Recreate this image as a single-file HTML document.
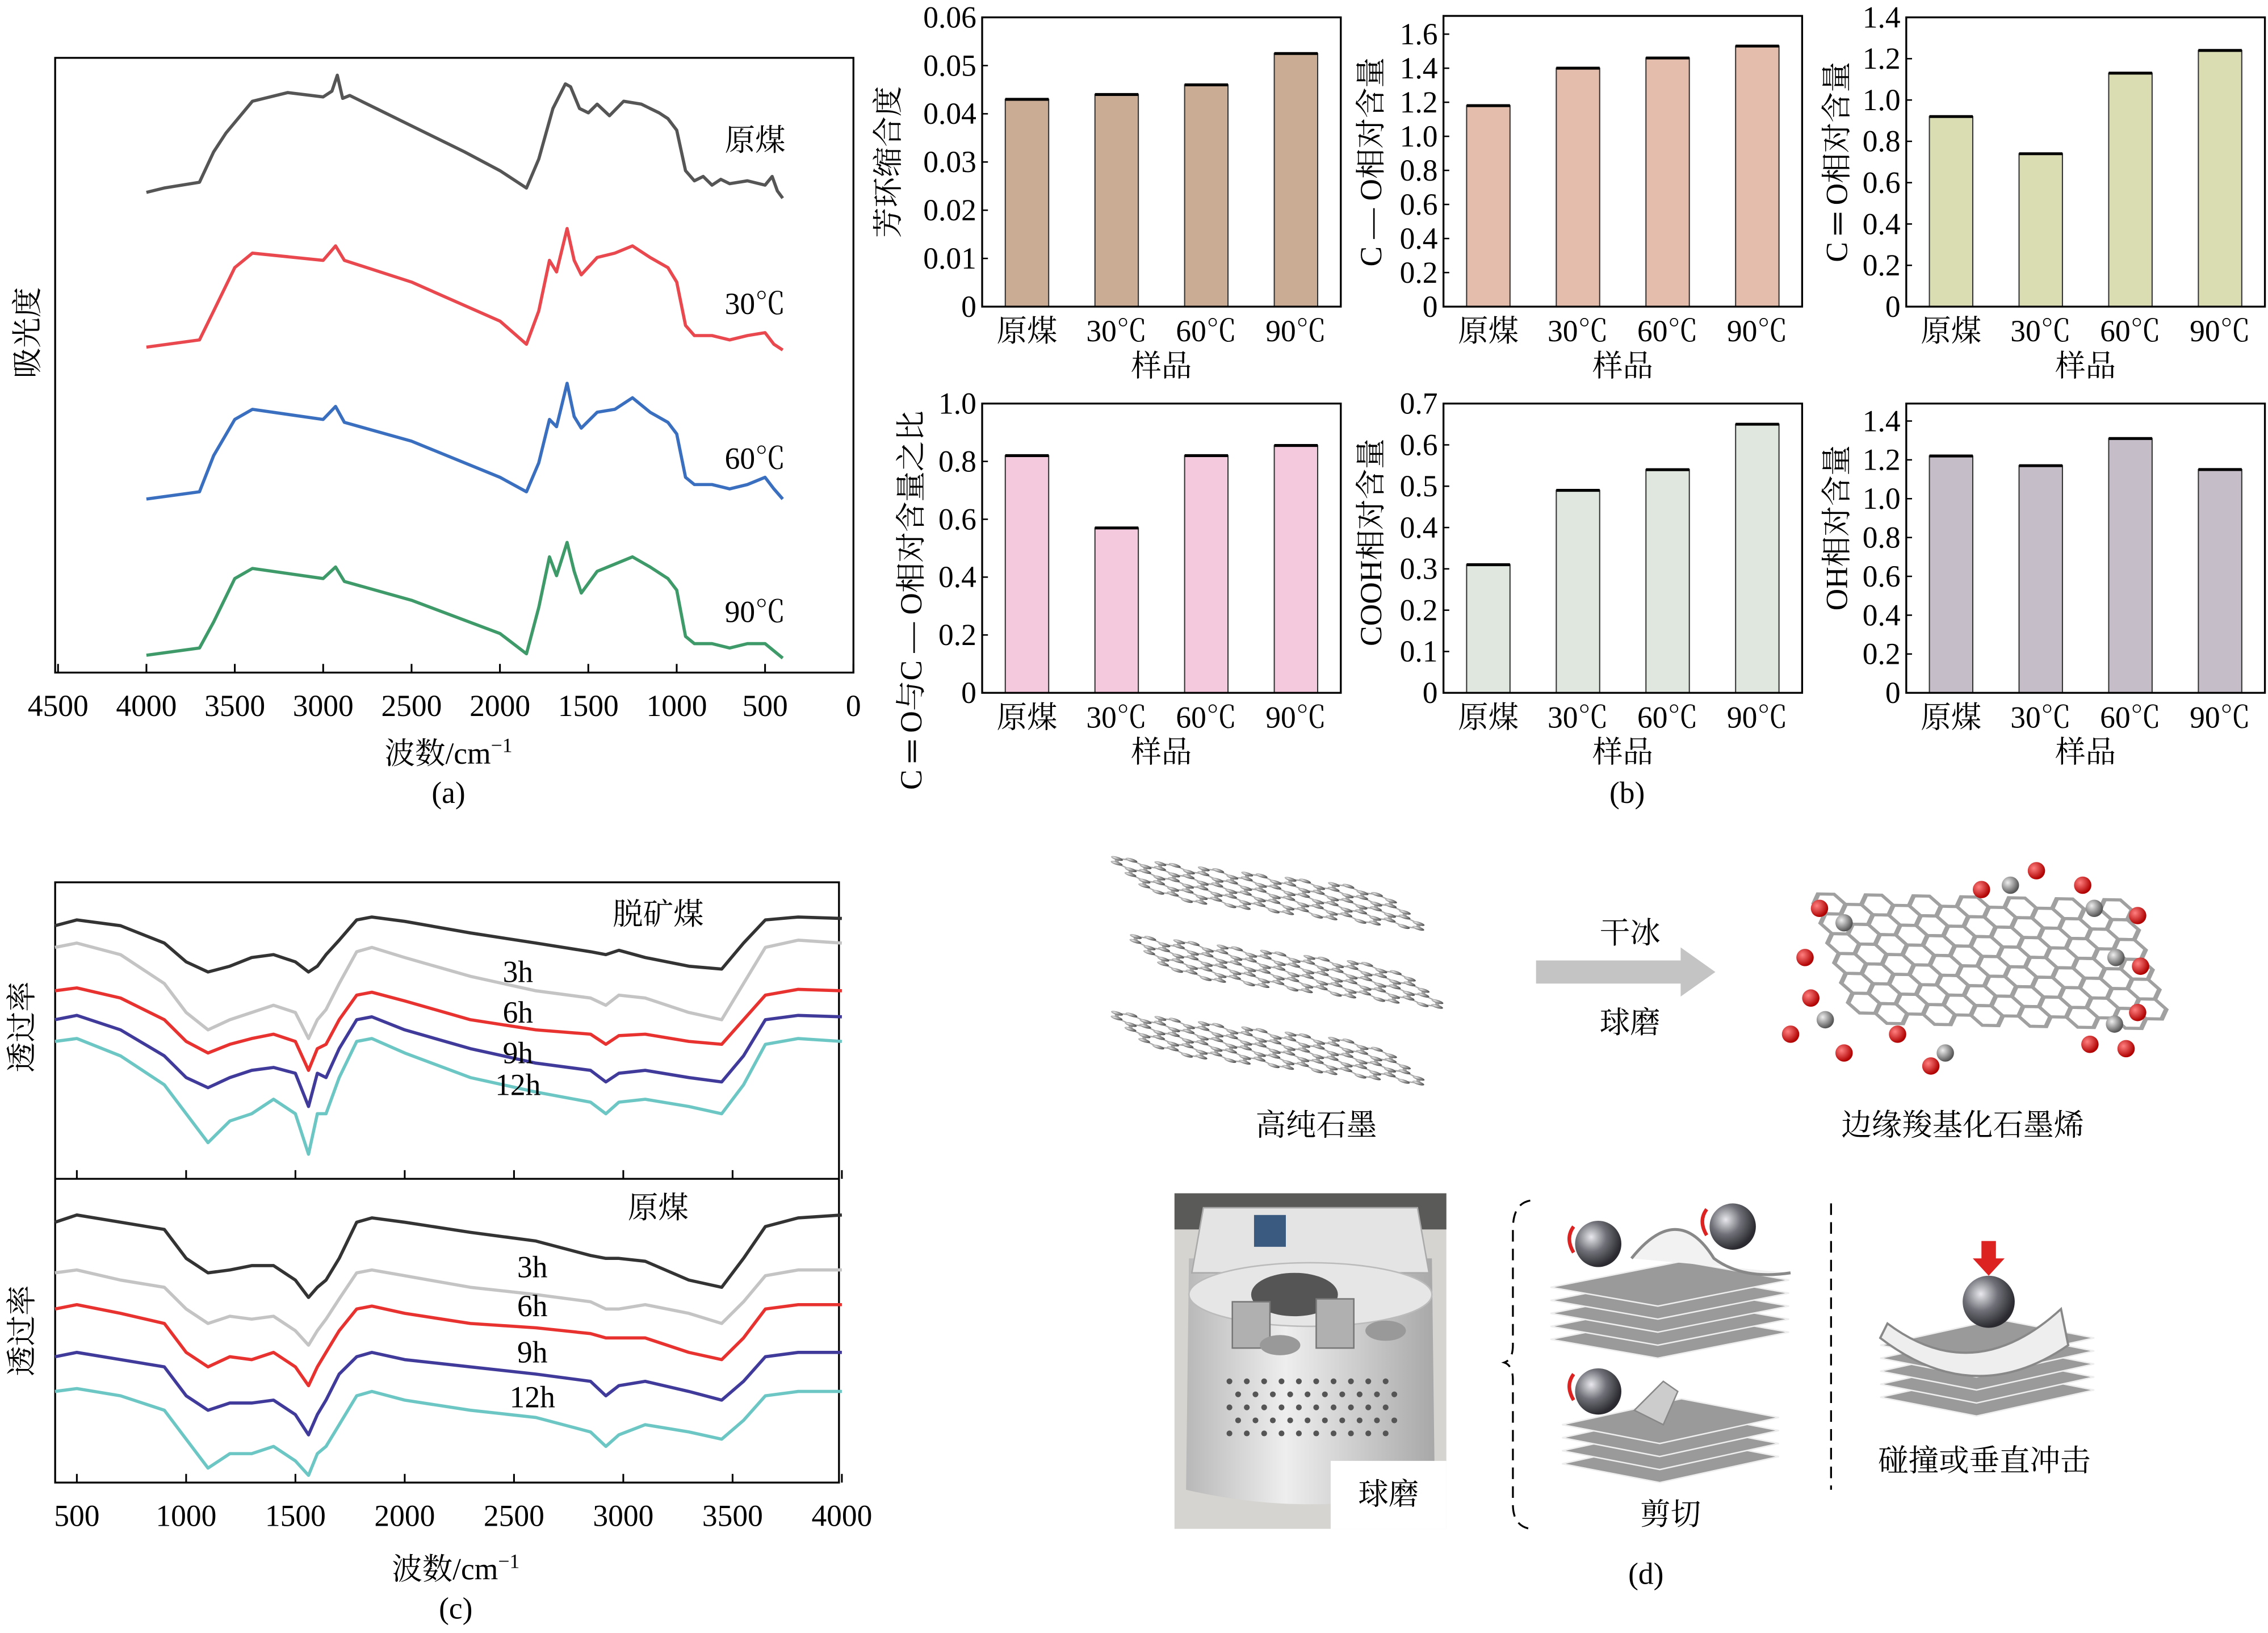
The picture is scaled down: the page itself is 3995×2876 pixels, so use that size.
<!DOCTYPE html>
<html><head><meta charset="utf-8"><style>
html,body{margin:0;padding:0;background:#fff;}
svg{display:block;font-family:"Liberation Serif","Noto Serif CJK SC",serif;}
</style></head><body>
<svg id="fig" width="3995" height="2876" viewBox="0 0 1568 1129" xmlns="http://www.w3.org/2000/svg">
<defs>
<radialGradient id="ball" cx="35%" cy="35%" r="65%"><stop offset="0" stop-color="#e8e8ee"/><stop offset="0.5" stop-color="#707078"/><stop offset="1" stop-color="#2a2a30"/></radialGradient>
<radialGradient id="gball" cx="35%" cy="35%" r="65%"><stop offset="0" stop-color="#eee"/><stop offset="1" stop-color="#555"/></radialGradient>
<radialGradient id="rball" cx="35%" cy="35%" r="65%"><stop offset="0" stop-color="#ff8080"/><stop offset="1" stop-color="#b00000"/></radialGradient>
<linearGradient id="cyl" x1="0" x2="1"><stop offset="0" stop-color="#b8b8b8"/><stop offset="0.4" stop-color="#eeeeee"/><stop offset="1" stop-color="#a8a8a8"/></linearGradient>
</defs>
<g id="panelA"></g>
<g id="panelB"></g>
<g id="panelC"></g>
<g id="panelD"></g>
</svg>
<script>
// ---------- Panel (a) data ----------
const aWaveBlack = [4000,3900,3700,3620,3550,3400,3200,3000,2950,2920,2890,2850,2700,2500,2200,2000,1850,1780,1700,1630,1600,1550,1500,1450,1380,1300,1200,1100,1050,1000,950,900,850,800,750,700,600,500,460,430,400];
const aRawCoal = [332,335,339,360,373,395,401,398,402,413,397,399,390,378,360,347,335,355,390,407,405,390,387,393,385,395,393,387,383,375,347,340,343,337,341,338,340,337,343,333,328];
const aWave = [4000,3700,3620,3500,3400,3000,2930,2880,2500,2000,1850,1780,1720,1680,1620,1580,1540,1450,1350,1250,1150,1050,1000,950,900,800,700,600,500,450,400];
const a30C = [225,230,250,280,290,285,295,285,270,243,227,250,285,277,307,285,275,287,290,295,287,280,270,240,233,233,230,233,235,227,223];
const a60C = [120,125,150,175,182,175,184,173,160,135,125,145,175,170,200,177,169,180,182,190,180,173,165,135,130,130,127,130,135,127,120];
const a90C = [12,17,35,65,72,65,73,63,50,27,13,45,80,67,90,70,55,70,75,80,73,65,57,25,20,20,17,20,20,15,10];
const aTicks = [4500,4000,3500,3000,2500,2000,1500,1000,500,0];

// ---------- Panel (b) data ----------
const bCategories = ['原煤','30℃','60℃','90℃'];
const bAromatic = [0.043,0.044,0.046,0.0525];
const bCO = [1.18,1.40,1.46,1.53];
const bCdO = [0.92,0.74,1.13,1.24];
const bRatio = [0.82,0.57,0.82,0.855];
const bCOOH = [0.31,0.49,0.54,0.65];
const bOH = [1.22,1.17,1.31,1.15];
const bTicks1 = [0,0.01,0.02,0.03,0.04,0.05,0.06];
const bTicks2 = [0,0.2,0.4,0.6,0.8,1.0,1.2,1.4,1.6];
const bTicks3 = [0,0.2,0.4,0.6,0.8,1.0,1.2,1.4];
const bTicks4 = [0,0.2,0.4,0.6,0.8,1.0];
const bTicks5 = [0,0.1,0.2,0.3,0.4,0.5,0.6,0.7];
const bTicks6 = [0,0.2,0.4,0.6,0.8,1.0,1.2,1.4];

// ---------- Panel (c) data ----------
const cWave = [400,500,700,900,1000,1100,1200,1300,1400,1500,1560,1600,1640,1700,1780,1850,2000,2300,2600,2850,2920,2980,3100,3300,3450,3550,3650,3800,4000];
const cDemin0 = [175,179,175,163,150,143,147,153,155,150,143,147,155,165,179,181,178,170,163,157,155,158,153,147,145,163,179,181,180];
const cDemin3 = [160,163,155,135,115,103,110,115,120,115,97,110,117,135,157,160,153,140,130,125,120,127,125,115,110,135,160,165,163];
const cDemin6 = [130,132,125,110,95,87,93,97,100,95,75,90,93,110,127,129,123,110,103,100,93,99,100,95,93,110,127,131,130];
const cDemin9 = [110,113,103,85,70,63,70,75,77,73,50,73,70,90,110,112,103,90,80,75,67,73,75,70,67,85,110,113,112];
const cDemin12 = [95,97,85,65,45,25,40,45,55,45,17,45,45,70,95,97,87,70,60,53,45,53,55,50,45,65,93,97,95];
const cRaw0 = [180,185,180,175,155,145,147,150,150,140,128,135,140,155,180,183,180,173,167,157,155,155,153,140,135,155,177,183,185];
const cRaw3 = [145,147,140,135,120,110,115,113,115,105,95,105,113,127,145,147,143,135,130,125,120,120,123,117,110,125,143,147,147];
const cRaw6 = [120,123,117,110,90,80,87,85,90,80,67,80,90,105,120,122,117,110,107,103,100,100,100,90,85,100,120,123,123];
const cRaw9 = [87,90,85,80,60,50,55,55,57,47,33,47,57,75,87,90,85,80,75,70,60,67,70,63,57,70,87,90,90];
const cRaw12 = [63,65,60,50,30,10,20,20,25,15,5,20,25,40,60,63,57,50,45,35,25,33,40,35,30,43,60,63,63];
const cTicks = [500,1000,1500,2000,2500,3000,3500,4000];

const NS = 'http://www.w3.org/2000/svg';
function mk(parent, tag, attrs, text){
  const e = document.createElementNS(NS, tag);
  for (const k in attrs) e.setAttribute(k, attrs[k]);
  if (text !== undefined) e.textContent = text;
  parent.appendChild(e);
  return e;
}
const FS = 21;

// ===== Panel A =====
(function(){
  const g = document.getElementById('panelA');
  const L=38,R=590,T=40,B=465;
  const xS = w => 40 + (4500 - w) * (550/4500);
  const yS = v => 465 - v;
  const box = mk(g,'rect',{x:L,y:T,width:R-L,height:B-T,fill:'none',stroke:'#000','stroke-width':1.3});
  
  
  aTicks.forEach(t=>{
    const tk = mk(g,'line',{x1:xS(t),x2:xS(t),y1:B,y2:B-6,stroke:'#000','stroke-width':1.2});
    
    
    const lb = mk(g,'text',{x:xS(t),y:495,'font-size':FS,'text-anchor':'middle'},String(t));
    
    
  });
  const series = [[aWaveBlack,aRawCoal,'#555555','原煤',97],[aWave,a30C,'#e8484e','30℃',210],[aWave,a60C,'#3a6fc0','60℃',317],[aWave,a90C,'#3f9a6a','90℃',423]];
  series.forEach(([xs,ys,col,name,ly])=>{
    const d = xs.map((w,i)=>(i?'L':'M')+xS(w).toFixed(1)+','+yS(ys[i]).toFixed(1)).join(' ');
    const p = mk(g,'path',{d:d,fill:'none',stroke:col,'stroke-width':2.2,'stroke-linejoin':'round'});
    
    
    const t = mk(g,'text',{x:522,y:ly+7,'font-size':FS,'text-anchor':'middle'},name);
    
    
  });
  const yl = mk(g,'text',{x:0,y:0,'font-size':FS,'text-anchor':'middle',transform:'translate(26,230) rotate(-90)'},'吸光度');
  
  
  const xl = mk(g,'text',{x:310,y:528,'font-size':FS,'text-anchor':'middle'});
  
  
  xl.innerHTML = '波数/cm<tspan dy="-8" font-size="14">−1</tspan>';
  const cap = mk(g,'text',{x:310,y:555,'font-size':FS,'text-anchor':'middle'},'(a)');
  
  
})();

// ===== Panel B =====
(function(){
  const g = document.getElementById('panelB');
  const charts = [
    {L:679,T:12,B:212,max:0.06,vals:bAromatic,ticks:bTicks1,dec:2,fill:'#c9ac93',title:'芳环缩合度',tx:614,ty:112,name:'aromatic'},
    {L:998,T:11,B:212,max:1.707,vals:bCO,ticks:bTicks2,dec:1,fill:'#e5bdad',title:'C — O相对含量',tx:948,ty:112,name:'c-o'},
    {L:1318,T:12,B:212,max:1.4,vals:bCdO,ticks:bTicks3,dec:1,fill:'#dadcb2',title:'C ═ O相对含量',tx:1270,ty:112,name:'c=o'},
    {L:679,T:279,B:479,max:1.0,vals:bRatio,ticks:bTicks4,dec:1,fill:'#f5c9dd',title:'C ═ O与C — O相对含量之比',tx:630,ty:415,name:'ratio'},
    {L:998,T:279,B:479,max:0.7,vals:bCOOH,ticks:bTicks5,dec:1,fill:'#dfe7df',title:'COOH相对含量',tx:948,ty:375,name:'cooh'},
    {L:1318,T:279,B:479,max:1.49,vals:bOH,ticks:bTicks6,dec:1,fill:'#c5bdc7',title:'OH相对含量',tx:1270,ty:365,name:'oh'}
  ];
  const W = 248;
  charts.forEach(c=>{
    const cg = mk(g,'g',{});
    
    
    const yS = v => c.B - v/c.max*(c.B-c.T);
    const band = W/bCategories.length;
    c.vals.forEach((v,i)=>{
      const cx = c.L + band*(i+0.5);
      const r = mk(cg,'rect',{x:cx-15,y:yS(v),width:30,height:c.B-yS(v),fill:c.fill,stroke:'#333','stroke-width':0.8});
      
      
      const tp = mk(cg,'line',{x1:cx-15,x2:cx+15,y1:yS(v),y2:yS(v),stroke:'#000','stroke-width':2});
      
      
      const xl = mk(cg,'text',{x:cx,y:c.B+24,'font-size':FS,'text-anchor':'middle'},bCategories[i]);
      
      
    });
    const fr = mk(cg,'rect',{x:c.L,y:c.T,width:W,height:c.B-c.T,fill:'none',stroke:'#000','stroke-width':1.3});
    
    
    c.ticks.forEach(t=>{
      const tl = mk(cg,'text',{x:c.L-4,y:yS(t)+7,'font-size':FS,'text-anchor':'end'},t===0?'0':t.toFixed(c.dec));
      
      
      const tk = mk(cg,'line',{x1:c.L,x2:c.L+4,y1:yS(t),y2:yS(t),stroke:'#000','stroke-width':1});
      
      
    });
    const xt = mk(cg,'text',{x:c.L+W/2,y:c.B+48,'font-size':FS,'text-anchor':'middle'},'样品');
    
    
    const yt = mk(cg,'text',{x:0,y:0,'font-size':FS,'text-anchor':'middle',transform:'translate('+(c.tx+7)+','+c.ty+') rotate(-90)'},c.title);
    
    
  });
  const cap = mk(g,'text',{x:1125,y:555,'font-size':FS,'text-anchor':'middle'},'(b)');
  
  
})();

// ===== Panel C =====
(function(){
  const g = document.getElementById('panelC');
  const L=38,R=580,T=610,M=815,B=1025;
  const xS = w => 53 + (w-500)*(529/3500);
  const frame = mk(g,'rect',{x:L,y:T,width:R-L,height:B-T,fill:'none',stroke:'#000','stroke-width':1.3});
  
  
  const dv = mk(g,'line',{x1:L,x2:R,y1:M,y2:M,stroke:'#000','stroke-width':1.3});
  
  
  cTicks.forEach(t=>{
    [M,B].forEach(yb=>{
      const tk = mk(g,'line',{x1:xS(t),x2:xS(t),y1:yb,y2:yb-6,stroke:'#000','stroke-width':1.2});
      
      
    });
    const lb = mk(g,'text',{x:xS(t),y:1055,'font-size':FS,'text-anchor':'middle'},String(t));
    
    
  });
  const cols = ['#333333','#c4c4c4','#e8322f','#403b9a','#6cc7c4'];
  const top = [cDemin0,cDemin3,cDemin6,cDemin9,cDemin12];
  const bot = [cRaw0,cRaw3,cRaw6,cRaw9,cRaw12];
  const names = ['0h','3h','6h','9h','12h'];
  [[top,M,'demineralized'],[bot,B,'raw']].forEach(([set,base,nm])=>{
    set.forEach((vals,k)=>{
      const d = cWave.map((w,i)=>(i?'L':'M')+xS(w).toFixed(1)+','+(base-vals[i]).toFixed(1)).join(' ');
      const p = mk(g,'path',{d:d,fill:'none',stroke:cols[k],'stroke-width':2.2,'stroke-linejoin':'round'});
      
      
    });
  });
  const labels = [['脱矿煤',455,632],['3h',358,672],['6h',358,700],['9h',358,728],['12h',358,750],['原煤',455,835],['3h',368,876],['6h',368,903],['9h',368,935],['12h',368,966]];
  labels.forEach(([t,x,y])=>{
    const e = mk(g,'text',{x:x,y:y+7,'font-size':FS,'text-anchor':'middle'},t);
    
    
  });
  [710,920].forEach(y=>{
    const e = mk(g,'text',{x:0,y:0,'font-size':FS,'text-anchor':'middle',transform:'translate(22,'+y+') rotate(-90)'},'透过率');
    
    
  });
  const xl = mk(g,'text',{x:315,y:1092,'font-size':FS,'text-anchor':'middle'});
  
  
  xl.innerHTML = '波数/cm<tspan dy="-8" font-size="14">−1</tspan>';
  const cap = mk(g,'text',{x:315,y:1119,'font-size':FS,'text-anchor':'middle'},'(c)');
  
  
})();

// ===== Panel D =====
(function(){
  const g = document.getElementById('panelD');
  function lattice(parent, cols, rows, s, ballFill, r, stroke, sw){
    const h = Math.sqrt(3)*s;
    for (let c=0;c<cols;c++) for (let rr=0;rr<rows;rr++){
      const cx = c*1.5*s, cy = rr*h + (c%2? h/2:0);
      const pts=[];
      for(let k=0;k<6;k++){const a=Math.PI/3*k;pts.push([cx+s*Math.cos(a),cy+s*Math.sin(a)]);}
      mk(parent,'polygon',{points:pts.map(p=>p.join(',')).join(' '),fill:'none',stroke:stroke,'stroke-width':sw});
      if (r>0) pts.forEach(p=>mk(parent,'circle',{cx:p[0],cy:p[1],r:r,fill:ballFill}));
    }
  }
  // graphite layers
  const gr = mk(g,'g',{});
  
  
  [[782,598],[795,652],[782,705]].forEach(([x,y])=>{
    const lg = mk(gr,'g',{transform:'translate('+x+','+y+') matrix(1,0.12,0.55,0.45,0,0)'});
    lattice(lg,12,3,10,'url(#gball)',3.6,'#a8a8a8',2.4);
  });
  // arrow
  const ar = mk(g,'polygon',{points:'1062,664 1162,664 1162,655 1186,672 1162,689 1162,680 1062,680',fill:'#c4c4c4'});
  
  
  // graphene
  const gn = mk(g,'g',{});
  
  
  const gl = mk(gn,'g',{transform:'translate(1265,625) matrix(1,0.02,0.25,0.72,0,0)'});
  lattice(gl,13,6,11,'#aaa',0,'#a0a0a0',3);
  [[1258,628],[1248,662],[1252,690],[1238,715],[1275,728],[1312,715],[1335,737],[1370,615],[1408,602],[1440,612],[1478,633],[1480,668],[1478,700],[1470,725],[1445,722]].forEach(([x,y])=>{
    const b = mk(gn,'circle',{cx:x,cy:y,r:6,fill:'url(#rball)'});
    
    
  });
  [[1275,638],[1390,612],[1448,628],[1463,662],[1462,708],[1262,705],[1345,728]].forEach(([x,y])=>{
    mk(gn,'circle',{cx:x,cy:y,r:6,fill:'url(#gball)'});
  });
  const txts = [['干冰',1127,645],['球磨',1127,707],['高纯石墨',910,778],['边缘羧基化石墨烯',1357,778],['剪切',1155,1047],['碰撞或垂直冲击',1372,1010],['(d)',1138,1088]];
  txts.forEach(([t,x,y])=>{
    const e = mk(g,'text',{x:x,y:y+7,'font-size':FS,'text-anchor':'middle'},t);
    
    
  });
  // photo of ball mill
  const ph = mk(g,'g',{});
  
  
  mk(ph,'rect',{x:812,y:825,width:188,height:232,fill:'#d6d4d0'});
  mk(ph,'rect',{x:812,y:825,width:188,height:25,fill:'#5a5a58'});
  mk(ph,'path',{d:'M822,870 L990,870 L992,1030 Q906,1050 820,1030 Z',fill:'url(#cyl)'});
  mk(ph,'path',{d:'M832,835 L980,835 L988,880 L824,880 Z',fill:'#e4e4e4',stroke:'#aaa'});
  mk(ph,'rect',{x:867,y:840,width:22,height:22,fill:'#3a5a80'});
  mk(ph,'ellipse',{cx:906,cy:895,rx:84,ry:22,fill:'#e6e6e6',stroke:'#bbb'});
  mk(ph,'ellipse',{cx:895,cy:895,rx:30,ry:15,fill:'#555'});
  mk(ph,'rect',{x:852,y:900,width:26,height:32,fill:'#b0b0b0',stroke:'#777'});
  mk(ph,'rect',{x:910,y:898,width:26,height:34,fill:'#b0b0b0',stroke:'#777'});
  mk(ph,'ellipse',{cx:885,cy:930,rx:14,ry:7,fill:'#999'});
  mk(ph,'ellipse',{cx:958,cy:920,rx:14,ry:7,fill:'#999'});
  for(let i=0;i<5;i++)for(let j=0;j<10;j++) mk(ph,'circle',{cx:850+j*12+(i%2)*6,cy:955+i*9,r:2,fill:'#555'});
  mk(ph,'rect',{x:920,y:1010,width:80,height:47,fill:'#fff'});
  const pl = mk(ph,'text',{x:960,y:1040,'font-size':FS,'text-anchor':'middle'},'球磨');
  
  
  // brace and dashed line
  const br = mk(g,'path',{d:'M1058,830 Q1046,832 1046,850 L1046,930 Q1046,940 1040,942 Q1046,944 1046,954 L1046,1040 Q1046,1055 1058,1057',fill:'none',stroke:'#000','stroke-width':1.3,'stroke-dasharray':'8,5'});
  
  
  const dl = mk(g,'line',{x1:1266,x2:1266,y1:832,y2:1030,stroke:'#000','stroke-width':1.3,'stroke-dasharray':'8,5'});
  
  
  // stacks
  function stack(x,y,w,n){
    for(let i=n-1;i>=0;i--){
      mk(g,'polygon',{points:[[x,y+i*9],[x+w*0.55,y+i*9-18],[x+w,y+i*9-5],[x+w*0.45,y+i*9+13]].map(p=>p.join(',')).join(' '),fill:'#9a9a9a',stroke:'#eee','stroke-width':1});
    }
  }
  stack(1072,890,165,5);
  stack(1080,985,150,4);
  stack(1300,930,148,5);
  mk(g,'path',{d:'M1128,870 Q1160,830 1185,870 Q1205,885 1238,880',fill:'#f2f2f2',stroke:'#888','stroke-width':2});
  mk(g,'path',{d:'M1130,975 L1150,955 L1160,962 L1150,985 Z',fill:'#ccc',stroke:'#888'});
  mk(g,'path',{d:'M1305,915 Q1365,960 1425,905 L1430,930 Q1365,975 1300,925 Z',fill:'#eee',stroke:'#888','stroke-width':1.5});
  [[1105,860,16],[1198,848,16],[1105,962,16],[1375,900,18]].forEach(([x,y,r])=>{
    const b = mk(g,'circle',{cx:x,cy:y,r:r,fill:'url(#ball)'});
    
    
  });
  [[1088,848],[1180,836],[1088,950]].forEach(([x,y])=>{
    mk(g,'path',{d:'M'+x+','+y+' q-6,8 0,18',fill:'none',stroke:'#d22','stroke-width':2.5});
  });
  const ia = mk(g,'polygon',{points:'1370,858 1380,858 1380,870 1386,870 1375,882 1364,870 1370,870',fill:'#d22'});
  
  
})();
</script>
</body></html>
